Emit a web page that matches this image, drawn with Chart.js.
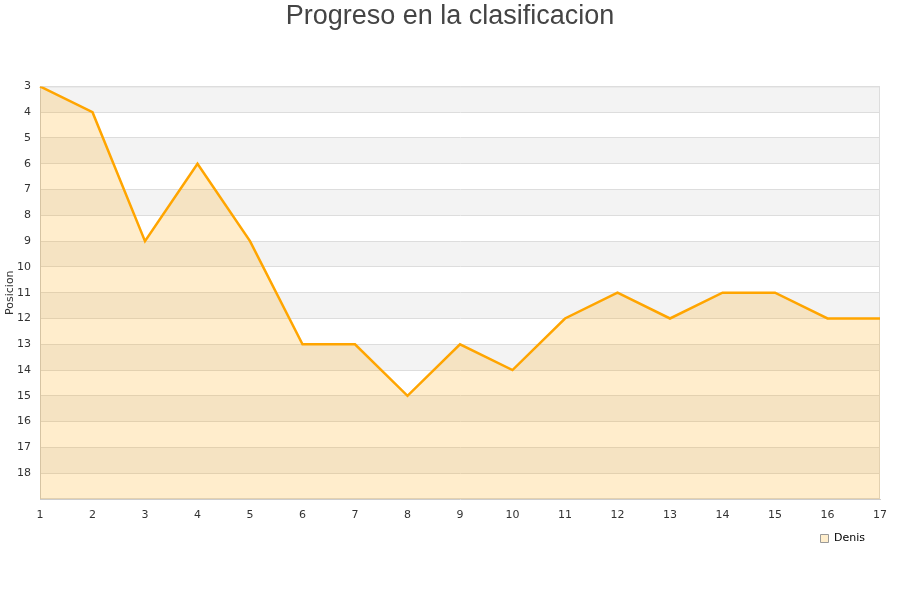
<!DOCTYPE html>
<html>
<head>
<meta charset="utf-8">
<script src="https://cdn.jsdelivr.net/npm/chart.js@4.4.0/dist/chart.umd.min.js"></script>
<style>
  html, body { margin: 0; padding: 0; background: #fff; }
  #wrap { width: 900px; height: 600px; }
</style>
</head>
<body>
<div id="wrap"><canvas id="progressChart" width="900" height="600"></canvas></div>
<script>
const jornadas = ["1", "2", "3", "4", "5", "6", "7", "8", "9", "10", "11", "12", "13", "14", "15", "16", "17"];
const denisPositions = [3, 4, 9, 6, 9, 13, 13, 15, 13, 14, 12, 11, 12, 11, 11, 12, 12];
const yTicks = [3, 4, 5, 6, 7, 8, 9, 10, 11, 12, 13, 14, 15, 16, 17, 18];

// alternating grey bands and a frame behind the grid
const bandPlugin = {
  id: "bands",
  afterLayout(chart) {
    // nudge the legend a bit left of the plot edge
    if (chart.legend) {
      chart.legend.left -= 17;
      chart.legend.right -= 17;
    }
  },
  beforeDraw(chart) {
    const { ctx, chartArea, scales } = chart;
    const y = scales.y;
    ctx.save();
    ctx.fillStyle = "#f3f3f3";
    for (let v = 3; v < 19; v += 2) {
      const top = y.getPixelForValue(v);
      const bottom = y.getPixelForValue(v + 1);
      ctx.fillRect(chartArea.left, top, chartArea.right - chartArea.left, bottom - top);
    }
    ctx.strokeStyle = "#dddddd";
    ctx.lineWidth = 1;
    ctx.strokeRect(chartArea.left + 0.5, chartArea.top + 0.5,
      chartArea.right - chartArea.left - 1, chartArea.bottom - chartArea.top - 1);
    ctx.restore();
  }
};

const ctx = document.getElementById("progressChart").getContext("2d");
new Chart(ctx, {
  type: "line",
  data: {
    labels: jornadas,
    datasets: [{
      label: "Denis",
      data: denisPositions,
      borderColor: "#ffa500",
      backgroundColor: "rgba(255, 165, 0, 0.2)",
      borderWidth: 2.5,
      pointRadius: 0,
      tension: 0,
      fill: "start"
    }]
  },
  options: {
    responsive: false,
    animation: false,
    layout: { padding: { left: 4, right: 4, bottom: 46 } },
    plugins: {
      title: {
        display: true,
        text: "Progreso en la clasificacion",
        color: "#444",
        font: { family: "Liberation Sans", size: 27, weight: "normal" },
        padding: { top: 0, bottom: 54 }
      },
      legend: {
        position: "bottom",
        align: "end",
        labels: {
          color: "#111",
          font: { family: "DejaVu Sans", size: 11 },
          boxWidth: 8,
          boxHeight: 8,
          padding: 14,
          generateLabels(chart) {
            return [{
              text: "Denis",
              fillStyle: "#ffeecc",
              strokeStyle: "#999999",
              lineWidth: 1,
              datasetIndex: 0
            }];
          }
        }
      },
      tooltip: { enabled: false }
    },
    scales: {
      x: {
        grid: { display: false, drawTicks: false },
        border: { color: "#ccc" },
        afterFit(scale) {
          scale.height = 20;
          scale.paddingRight = 20;
        },
        ticks: {
          color: "#333",
          font: { family: "DejaVu Sans", size: 11 },
          maxRotation: 0,
          padding: 10
        }
      },
      y: {
        reverse: true,
        min: 3,
        max: 19,
        title: {
          display: true,
          text: "Posicion",
          color: "#333",
          font: { family: "DejaVu Sans", size: 11 },
          padding: 0
        },
        grid: { color: "#dddddd", drawTicks: false },
        border: { color: "#ccc" },
        afterFit(scale) { scale.width = 36; },
        afterBuildTicks(scale) {
          scale.ticks = yTicks.map(v => ({ value: v }));
        },
        ticks: {
          color: "#333",
          font: { family: "DejaVu Sans", size: 11 },
          padding: 9
        }
      }
    }
  },
  plugins: [bandPlugin]
});
</script>
</body>
</html>
